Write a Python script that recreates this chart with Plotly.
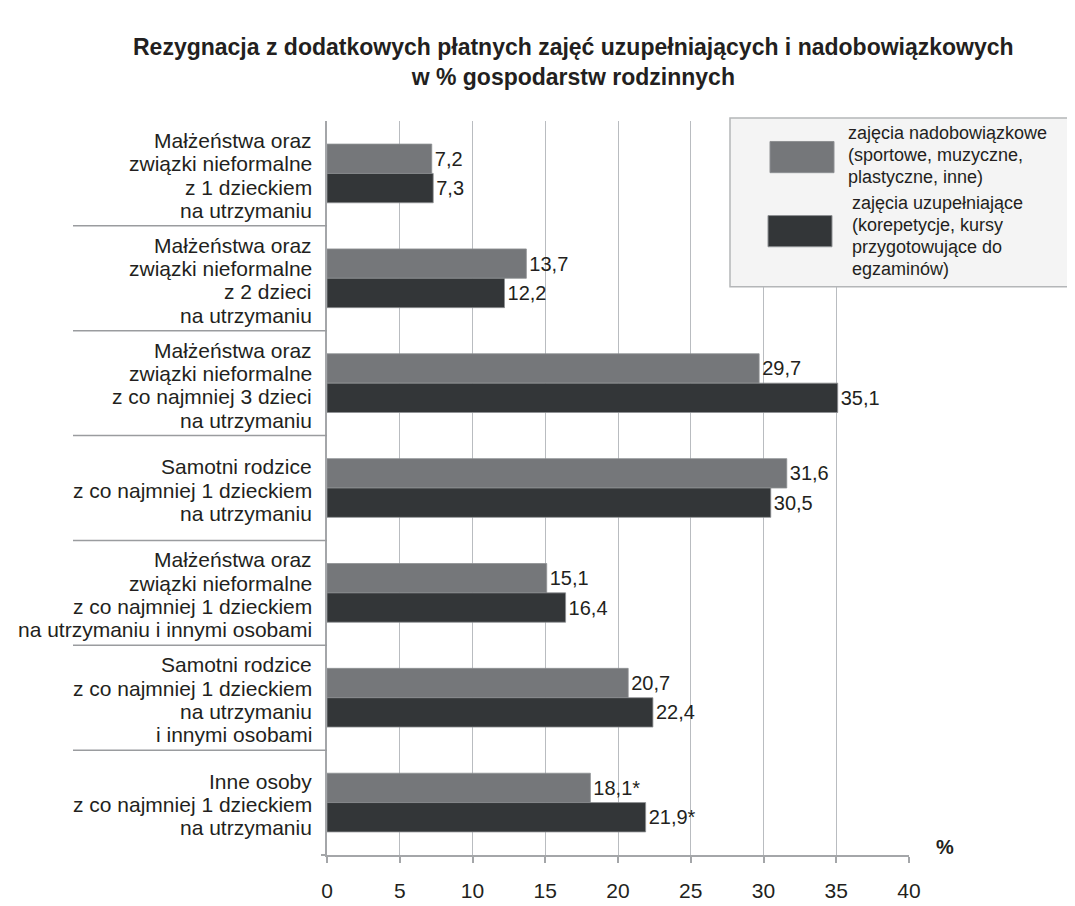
import plotly.graph_objects as go

categories = [
    "Małżeństwa oraz<br>związki nieformalne<br>z 1 dzieckiem<br>na utrzymaniu",
    "Małżeństwa oraz<br>związki nieformalne<br>z 2 dzieci<br>na utrzymaniu",
    "Małżeństwa oraz<br>związki nieformalne<br>z co najmniej 3 dzieci<br>na utrzymaniu",
    "Samotni rodzice<br>z co najmniej 1 dzieckiem<br>na utrzymaniu",
    "Małżeństwa oraz<br>związki nieformalne<br>z co najmniej 1 dzieckiem<br>na utrzymaniu i innymi osobami",
    "Samotni rodzice<br>z co najmniej 1 dzieckiem<br>na utrzymaniu<br>i innymi osobami",
    "Inne osoby<br>z co najmniej 1 dzieckiem<br>na utrzymaniu",
]
nadobowiazkowe = [7.2, 13.7, 29.7, 31.6, 15.1, 20.7, 18.1]
uzupelniajace = [7.3, 12.2, 35.1, 30.5, 16.4, 22.4, 21.9]
flags = ["", "", "", "", "", "", "*"]
x_ticks = [0, 5, 10, 15, 20, 25, 30, 35, 40]

name1 = "zajęcia nadobowiązkowe<br>(sportowe, muzyczne,<br>plastyczne, inne)"
name2 = "zajęcia uzupełniające<br>(korepetycje, kursy<br>przygotowujące do<br>egzaminów)"
title_text = ("<b>Rezygnacja z dodatkowych płatnych zajęć uzupełniających i nadobowiązkowych</b><br>"
              "<b>w % gospodarstw rodzinnych</b>")

C_GRAY = "#75777a"
C_DARK = "#333638"
TXT = "#231f20"
FONT = "Liberation Sans, Arial, sans-serif"

W, H = 1075, 906
L, R, T, B = 319, 901, 113, 866


def px(x):
    return (x - L) / (R - L)


def py(y):
    return (B - y) / (B - T)


def fmt(v, f):
    return f"{v:.1f}".replace(".", ",") + f


fig = go.Figure()
fig.add_trace(go.Bar(
    y=categories, x=nadobowiazkowe, orientation="h", name=name1,
    marker=dict(color=C_GRAY, line=dict(color="#8e9093", width=0.8)),
    text=[fmt(v, f) for v, f in zip(nadobowiazkowe, flags)],
    textposition="outside", textfont=dict(size=20, color=TXT, family=FONT),
    cliponaxis=False, showlegend=False,
))
fig.add_trace(go.Bar(
    y=categories, x=uzupelniajace, orientation="h", name=name2,
    marker=dict(color=C_DARK, line=dict(color="#8e9093", width=0.8)),
    text=[fmt(v, f) for v, f in zip(uzupelniajace, flags)],
    textposition="outside", textfont=dict(size=20, color=TXT, family=FONT),
    cliponaxis=False, showlegend=False,
))

shapes = []
for k in range(len(categories) - 1):
    shapes.append(dict(type="line", xref="paper", yref="y",
                       x0=px(65), x1=0, y0=k + 0.5, y1=k + 0.5,
                       line=dict(color="#9a9c9f", width=1.5), layer="above"))
shapes.append(dict(type="line", xref="paper", yref="paper",
                   x0=px(313), x1=0, y0=0, y1=0,
                   line=dict(color="#a4a6a9", width=2)))
# legend box and swatches
shapes.append(dict(type="rect", xref="paper", yref="paper",
                   x0=px(722), x1=px(1072), y0=py(283), y1=py(110),
                   fillcolor="#f4f4f4", line=dict(color="#b4b6b8", width=1.5),
                   layer="above"))
shapes.append(dict(type="rect", xref="paper", yref="paper",
                   x0=px(762), x1=px(826), y0=py(166), y1=py(134),
                   fillcolor=C_GRAY, line=dict(color="#8e9093", width=1),
                   layer="above"))
shapes.append(dict(type="rect", xref="paper", yref="paper",
                   x0=px(760), x1=px(824), y0=py(242), y1=py(210),
                   fillcolor=C_DARK, line=dict(color="#8e9093", width=1),
                   layer="above"))

annotations = []
# category labels, one annotation per line for tight line spacing
LINE = 23.3
for cat in categories:
    lines = cat.split("<br>")
    n = len(lines)
    for j, ln in enumerate(lines):
        annotations.append(dict(
            text=ln, xref="paper", yref="y", x=px(306), y=cat,
            xanchor="right", yanchor="middle", showarrow=False,
            yshift=((n - 1) / 2 - j) * LINE - 2,
            font=dict(size=21, color=TXT, family=FONT)))

# legend texts
for txt, x0, y0 in [(name1, 838, 125), (name2, 842, 197)]:
    for j, ln in enumerate(txt.split("<br>")):
        annotations.append(dict(
            text=ln, xref="paper", yref="paper", x=px(x0), y=py(y0 + j * 22.5),
            xanchor="left", yanchor="middle", showarrow=False,
            font=dict(size=18, color=TXT, family=FONT)))

# title
annotations.append(dict(
    text=title_text, xref="paper", yref="paper", x=px(565), y=py(52),
    xanchor="center", yanchor="middle", showarrow=False,
    font=dict(size=23, color=TXT, family=FONT)))

annotations.append(dict(text="<b>%</b>", xref="paper", yref="paper", x=px(937), y=py(858),
                        xanchor="center", yanchor="middle", showarrow=False,
                        font=dict(size=20, color=TXT, family=FONT)))

fig.update_layout(
    width=W, height=H,
    margin=dict(l=L, r=W - R, t=T, b=H - B, pad=0),
    paper_bgcolor="white", plot_bgcolor="white",
    barmode="group", bargap=0.44, bargroupgap=0,
    font=dict(family=FONT, color=TXT, size=20),
    xaxis=dict(
        range=[0, 40], tickvals=x_ticks, ticktext=[str(t) for t in x_ticks],
        showgrid=True, gridcolor="#b9bcc0", gridwidth=1,
        showline=True, linecolor="#a4a6a9", linewidth=2,
        ticks="outside", ticklen=6, tickcolor="#a4a6a9", tickwidth=1.5,
        ticklabelstandoff=10, zeroline=False,
        tickfont=dict(size=21, color=TXT, family=FONT),
    ),
    yaxis=dict(
        type="category", autorange="reversed",
        showgrid=False, showline=True, linecolor="#a4a6a9", linewidth=1.5,
        ticks="", showticklabels=False,
    ),
    shapes=shapes, annotations=annotations,
)

fig.write_html("out.html")
